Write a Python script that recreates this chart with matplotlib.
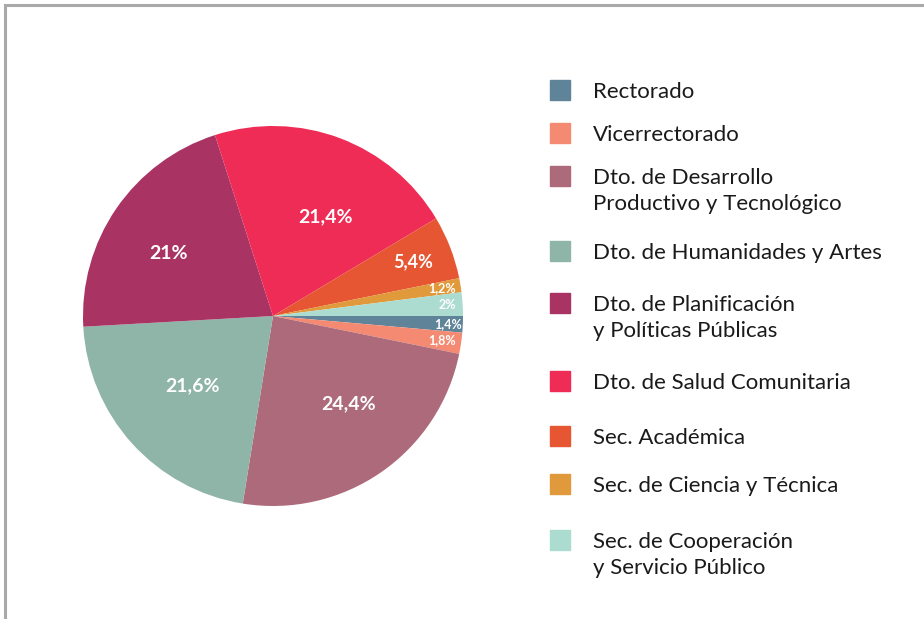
import matplotlib.pyplot as plt
import numpy as np
from matplotlib.patches import Rectangle
from matplotlib.lines import Line2D

# datos del grafico
areas = ['Rectorado', 'Vicerrectorado',
         'Dto. de Desarrollo\nProductivo y Tecnológico',
         'Dto. de Humanidades y Artes',
         'Dto. de Planificación\ny Políticas Públicas',
         'Dto. de Salud Comunitaria',
         'Sec. Académica',
         'Sec. de Ciencia y Técnica',
         'Sec. de Cooperación\ny Servicio Público']
porcentajes = [1.4, 1.8, 24.4, 21.6, 21.0, 21.4, 5.4, 1.2, 2.0]
etiquetas = ['1,4%', '1,8%', '24,4%', '21,6%', '21%', '21,4%', '5,4%', '1,2%', '2%']
colores = ['#5f8499', '#f58a73', '#ad6a7a', '#8fb4a8', '#a93464',
           '#ee2c55', '#e75633', '#e0993b', '#acdcd0']

# estilo de etiquetas (distancia al centro, ajuste de angulo, tamanio)
dist_etq = [0.92, 0.9, 0.61, 0.56, 0.64, 0.59, 0.79, 0.9, 0.92]
ajuste_ang = [0, 0, 6, -1, 3.4, -7, 0, 0, 0]
tam_etq = [9, 9, 14, 14, 14, 14, 13, 9, 9]

plt.rcParams['font.family'] = ['Lato', 'DejaVu Sans']

fig = plt.figure(figsize=(9.24, 6.19), dpi=100)

# marco gris arriba y a la izquierda
fig.add_artist(Line2D([5 / 924, 1], [1 - 5 / 619, 1 - 5 / 619], color='#a9a9a9', lw=2.2))
fig.add_artist(Line2D([5 / 924, 5 / 924], [0, 1 - 5 / 619], color='#a9a9a9', lw=2.2))

# torta: centro (273, 316), radio 190 px
cx, cy, r = 273, 316, 190
ax = fig.add_axes([(cx - r) / 924, 1 - (cy + r) / 619, 2 * r / 924, 2 * r / 619])
wedges, _ = ax.pie(porcentajes, colors=colores, startangle=0, counterclock=False,
                   wedgeprops=dict(linewidth=0))
ax.set_xlim(-1, 1)
ax.set_ylim(-1, 1)
ax.set_aspect('equal')
ax.axis('off')

for w, etq, d, a, t in zip(wedges, etiquetas, dist_etq, ajuste_ang, tam_etq):
    ang = np.deg2rad((w.theta1 + w.theta2) / 2 + a)
    ax.text(d * np.cos(ang), d * np.sin(ang), etq, color='white', fontsize=t,
            fontweight='bold', ha='center', va='center')

# leyenda manual
y_filas = [90, 133, 176, 251, 303, 381, 436, 484, 540]
for nombre, col, y in zip(areas, colores, y_filas):
    fig.add_artist(Rectangle((550 / 924, 1 - (y + 10) / 619), 20 / 924, 20 / 619,
                             color=col, transform=fig.transFigure))
    fig.text(593 / 924, 1 - (y - 8) / 619, nombre, fontsize=16, color='#1a1a1a',
             ha='left', va='top', linespacing=1.37)

fig.savefig('out.png', dpi=100)
